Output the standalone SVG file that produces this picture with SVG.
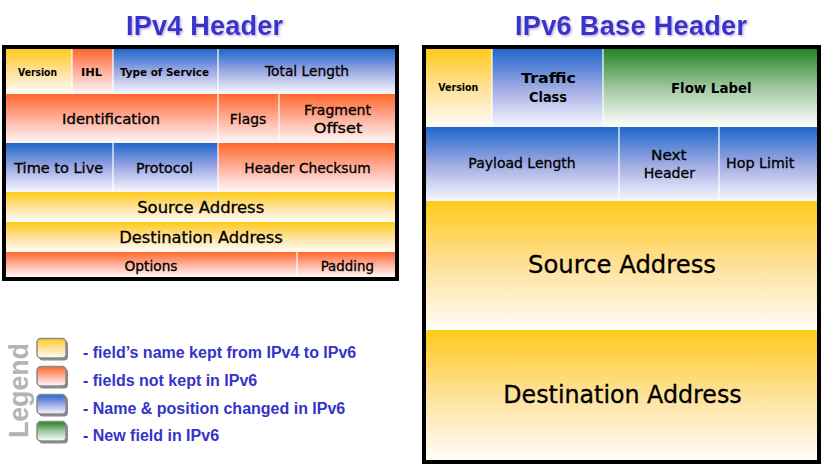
<svg xmlns="http://www.w3.org/2000/svg" width="827" height="475" viewBox="0 0 827 475">
<defs>
<linearGradient id="gY" x1="0" y1="0" x2="0" y2="1"><stop offset="0" stop-color="#ffca1a"/><stop offset="0.5" stop-color="#fee199"/><stop offset="1" stop-color="#fffdfa"/></linearGradient>
<linearGradient id="gO" x1="0" y1="0" x2="0" y2="1"><stop offset="0" stop-color="#ff6628"/><stop offset="0.5" stop-color="#ffb09c"/><stop offset="1" stop-color="#fff8f8"/></linearGradient>
<linearGradient id="gB" x1="0" y1="0" x2="0" y2="1"><stop offset="0" stop-color="#1f66cc"/><stop offset="0.5" stop-color="#9eaae2"/><stop offset="1" stop-color="#f8f8ff"/></linearGradient>
<linearGradient id="gG" x1="0" y1="0" x2="0" y2="1"><stop offset="0" stop-color="#228422"/><stop offset="0.5" stop-color="#a2c8a2"/><stop offset="1" stop-color="#ffffff"/></linearGradient>
<filter id="sh" x="-10%" y="-20%" width="120%" height="150%"><feDropShadow dx="1.2" dy="1.2" stdDeviation="0.8" flood-color="#a080d0" flood-opacity="0.7"/></filter>
</defs>
<style>
.t{font-family:"DejaVu Sans","Liberation Sans",sans-serif;fill:#000;text-anchor:middle;stroke:#000;stroke-width:0.3}
.b{font-weight:bold;stroke-width:0}
.s{font-size:10.5px}
.m{font-size:14px}
.l{font-size:16px}
.xl{font-size:24px}
.title{font-family:"Liberation Sans",Arial,sans-serif;font-weight:bold;font-size:27px;fill:#3434c8;text-anchor:middle}
.leg{font-family:"Liberation Sans",Arial,sans-serif;font-weight:bold;font-size:16px;fill:#3434c8}
.sep{stroke:#fff;stroke-width:1.2}
.frame{fill:none;stroke:#000;stroke-width:4}
.sw{stroke:#8a8a8a;stroke-width:1.5}
.swsh{fill:#8a8a8a}
</style>
<rect width="827" height="475" fill="#fff"/>

<text class="title" x="204.5" y="35" filter="url(#sh)" textLength="157">IPv4 Header</text>
<text class="title" x="631" y="35" filter="url(#sh)" textLength="232">IPv6 Base Header</text>

<g id="ipv4">
<g id="v4-version"><rect x="6" y="49" width="66" height="45" fill="url(#gY)"/><text class="t s b" x="37.5" y="75.5" textLength="39" lengthAdjust="spacingAndGlyphs">Version</text></g>
<g id="v4-ihl"><rect x="72" y="49" width="41" height="45" fill="url(#gO)"/><text class="t s b" x="91.5" y="75.5" textLength="21" lengthAdjust="spacingAndGlyphs">IHL</text></g>
<g id="v4-tos"><rect x="113" y="49" width="105" height="45" fill="url(#gB)"/><text class="t s b" x="164.5" y="75.5" textLength="89" lengthAdjust="spacingAndGlyphs">Type of Service</text></g>
<g id="v4-totlen"><rect x="218" y="49" width="177" height="45" fill="url(#gB)"/><text class="t m" x="307" y="76" textLength="84" lengthAdjust="spacingAndGlyphs">Total Length</text></g>
<g id="v4-id"><rect x="6" y="94" width="212" height="49" fill="url(#gO)"/><text class="t m" x="111" y="124" textLength="98" lengthAdjust="spacingAndGlyphs">Identification</text></g>
<g id="v4-flags"><rect x="218" y="94" width="61" height="49" fill="url(#gO)"/><text class="t m" x="248" y="124" textLength="36.5" lengthAdjust="spacingAndGlyphs">Flags</text></g>
<g id="v4-frag"><rect x="279" y="94" width="116" height="49" fill="url(#gO)"/><text class="t m" x="337.5" y="114.5" textLength="67" lengthAdjust="spacingAndGlyphs">Fragment</text><text class="t m" x="338" y="132.5" textLength="48.5" lengthAdjust="spacingAndGlyphs">Offset</text></g>
<g id="v4-ttl"><rect x="6" y="143" width="107" height="49" fill="url(#gB)"/><text class="t m" x="58.7" y="172.5" textLength="89" lengthAdjust="spacingAndGlyphs">Time to Live</text></g>
<g id="v4-proto"><rect x="113" y="143" width="105" height="49" fill="url(#gB)"/><text class="t m" x="164.5" y="172.5" textLength="57" lengthAdjust="spacingAndGlyphs">Protocol</text></g>
<g id="v4-chk"><rect x="218" y="143" width="177" height="49" fill="url(#gO)"/><text class="t m" x="307.5" y="172.5" textLength="126.5" lengthAdjust="spacingAndGlyphs">Header Checksum</text></g>
<g id="v4-src"><rect x="6" y="192" width="389" height="30" fill="url(#gY)"/><text class="t l" x="200.7" y="212.5" textLength="127" lengthAdjust="spacingAndGlyphs">Source Address</text></g>
<g id="v4-dst"><rect x="6" y="222" width="389" height="30" fill="url(#gY)"/><text class="t l" x="201" y="242.5" textLength="163.5" lengthAdjust="spacingAndGlyphs">Destination Address</text></g>
<g id="v4-opt"><rect x="6" y="252" width="291" height="25" fill="url(#gO)"/><text class="t m" x="151" y="270.5" textLength="53" lengthAdjust="spacingAndGlyphs">Options</text></g>
<g id="v4-pad"><rect x="297" y="252" width="98" height="25" fill="url(#gO)"/><text class="t m" x="347.3" y="270.5" textLength="53.3" lengthAdjust="spacingAndGlyphs">Padding</text></g>
<g id="v4-separators">
<line class="sep" x1="72" y1="49" x2="72" y2="94"/><line class="sep" x1="113" y1="49" x2="113" y2="94"/>
<line class="sep" x1="218" y1="49" x2="218" y2="192"/><line class="sep" x1="279" y1="94" x2="279" y2="143"/>
<line class="sep" x1="113" y1="143" x2="113" y2="192"/><line class="sep" x1="297" y1="252" x2="297" y2="277"/>
</g>
<rect class="frame" x="4" y="47" width="393" height="232"/>
</g>

<g id="ipv6">
<g id="v6-version"><rect x="426" y="49" width="66" height="78" fill="url(#gY)"/><text class="t s b" x="458.3" y="90.5" textLength="40" lengthAdjust="spacingAndGlyphs">Version</text></g>
<g id="v6-tc"><rect x="492" y="49" width="111" height="78" fill="url(#gB)"/><text class="t m b" x="548.5" y="82.5" textLength="55" lengthAdjust="spacingAndGlyphs">Traffic</text><text class="t m b" x="548" y="102" textLength="38" lengthAdjust="spacingAndGlyphs">Class</text></g>
<g id="v6-flow"><rect x="603" y="49" width="214" height="78" fill="url(#gG)"/><text class="t m b" x="711.3" y="92.5" textLength="80.7" lengthAdjust="spacingAndGlyphs">Flow Label</text></g>
<g id="v6-plen"><rect x="426" y="127" width="193" height="74" fill="url(#gB)"/><text class="t m" x="522" y="168" textLength="107.3" lengthAdjust="spacingAndGlyphs">Payload Length</text></g>
<g id="v6-nh"><rect x="619" y="127" width="100" height="74" fill="url(#gB)"/><text class="t m" x="668.8" y="160" textLength="35.7" lengthAdjust="spacingAndGlyphs">Next</text><text class="t m" x="669.3" y="177.5" textLength="51.3" lengthAdjust="spacingAndGlyphs">Header</text></g>
<g id="v6-hl"><rect x="719" y="127" width="98" height="74" fill="url(#gB)"/><text class="t m" x="760.2" y="168" textLength="68.3" lengthAdjust="spacingAndGlyphs">Hop Limit</text></g>
<g id="v6-src"><rect x="426" y="201" width="391" height="129" fill="url(#gY)"/><text class="t xl" x="622" y="273" textLength="188" lengthAdjust="spacingAndGlyphs">Source Address</text></g>
<g id="v6-dst"><rect x="426" y="330" width="391" height="130" fill="url(#gY)"/><text class="t xl" x="622.5" y="403" textLength="238.3" lengthAdjust="spacingAndGlyphs">Destination Address</text></g>
<g id="v6-separators">
<line class="sep" x1="492" y1="49" x2="492" y2="127"/><line class="sep" x1="603" y1="49" x2="603" y2="127"/>
<line class="sep" x1="619" y1="127" x2="619" y2="201"/><line class="sep" x1="719" y1="127" x2="719" y2="201"/>
</g>
<rect class="frame" x="424" y="47" width="395" height="415"/>
</g>

<g id="legend">
<text x="28" y="390.5" transform="rotate(-90 28 390.5)" font-family="Liberation Sans, Arial, sans-serif" font-weight="bold" font-size="27" fill="#b4b4b4" text-anchor="middle" textLength="95">Legend</text>
<g id="leg-yellow"><rect class="swsh" x="39" y="340.5" width="29" height="20" rx="4"/><rect class="sw" x="37" y="338.5" width="29" height="19.5" rx="4" fill="url(#gY)"/><text class="leg" x="83" y="358">- field’s name kept from IPv4 to IPv6</text></g>
<g id="leg-orange"><rect class="swsh" x="39" y="368.5" width="29" height="20" rx="4"/><rect class="sw" x="37" y="366.5" width="29" height="19.5" rx="4" fill="url(#gO)"/><text class="leg" x="83" y="386">- fields not kept in IPv6</text></g>
<g id="leg-blue"><rect class="swsh" x="39" y="396.5" width="29" height="20" rx="4"/><rect class="sw" x="37" y="394.5" width="29" height="19.5" rx="4" fill="url(#gB)"/><text class="leg" x="83" y="414">- Name &amp; position changed in IPv6</text></g>
<g id="leg-green"><rect class="swsh" x="39" y="423.5" width="29" height="20" rx="4"/><rect class="sw" x="37" y="421.5" width="29" height="19.5" rx="4" fill="url(#gG)"/><text class="leg" x="83" y="441">- New field in IPv6</text></g>
</g>
</svg>
